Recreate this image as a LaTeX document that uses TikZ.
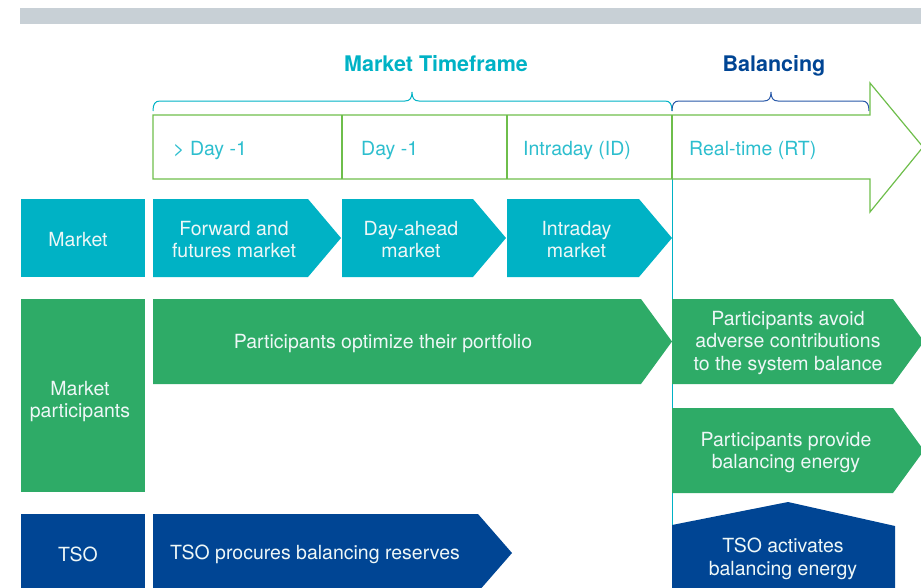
\documentclass[tikz,border=0pt]{standalone}
\usepackage{fontspec}
\setmainfont{TeX Gyre Heros}
\usetikzlibrary{positioning}
\definecolor{bar_grey}{RGB}{200,208,214}
\definecolor{teal_blue}{RGB}{0,178,197}
\definecolor{light_teal}{RGB}{45,190,206}
\definecolor{line_green}{RGB}{110,190,75}
\definecolor{field_green}{RGB}{46,171,103}
\definecolor{tso_blue}{RGB}{0,69,148}
\definecolor{brace_blue}{RGB}{40,88,168}
\definecolor{text_white}{RGB}{238,247,247}

\begin{document}
\begin{tikzpicture}[x=1pt,y=-1pt,
	txt/.style={text=text_white,align=center,inner sep=0pt,yshift=-1.5pt,font=\fontsize{19.5}{22.7}\selectfont},
	head/.style={anchor=base,inner sep=0pt,font=\fontsize{21.5}{26}\selectfont\bfseries},
	slot/.style={anchor=west,inner sep=0pt,yshift=-2.5pt,text=light_teal,font=\fontsize{19.5}{22.7}\selectfont}]
	\useasboundingbox (0,0) rectangle (921,587);
	\fill[bar_grey] (20,8) rectangle (921,24);

	% headings and braces
	\node[head,text=teal_blue] (timeframe) at (436,71) {Market Timeframe};
	\node[head,text=tso_blue] (balancing) at (774,71) {Balancing};
	\draw[teal_blue,line width=1pt] (153,111) .. controls (153,104) and (155,101) .. (160,101) -- (405,101) .. controls (410,101) and (412,98) .. (412,92) .. controls (412,98) and (414,101) .. (419,101) -- (665,101) .. controls (670,101) and (672,104) .. (672,111);
	\draw[brace_blue,line width=1pt] (672,111) .. controls (672,104) and (674,101) .. (679,101) -- (764,101) .. controls (769,101) and (771,98) .. (771,92) .. controls (771,98) and (773,101) .. (778,101) -- (862,101) .. controls (867,101) and (869,104) .. (869,111);

	% time axis
	\draw[teal_blue,line width=1pt] (672,179) -- (672,590);
	\draw[line_green,line width=1.2pt] (153,115) -- (870,115) -- (870,83) -- (923,147) -- (870,212) -- (870,179) -- (153,179) -- cycle;
	\foreach \x in {342,507,672}
		\draw[line_green,line width=1.2pt] (\x,115) -- (\x,179);
	\node[slot] (dayminus) at (173,148) {> Day -1};
	\node[slot] (dayahead) at (361,148) {Day -1};
	\node[slot] (intraday) at (523,148) {Intraday (ID)};
	\node[slot] (realtime) at (689,148) {Real-time (RT)};

	% row labels
	\fill[teal_blue] (21,199) rectangle (145,277);
	\node[txt] (market) at (78,238) {Market};
	\fill[field_green] (21,299) rectangle (145,492);
	\node[txt] (participants) at (80,400) {Market\\participants};
	\fill[tso_blue] (21,514) rectangle (145,595);
	\node[txt] (tso) at (78,553) {TSO};

	% market products
	\foreach \xa/\xb/\nm/\lbl in {153/341/forward/{Forward and\\futures market},342/506/dayaheadmkt/{Day-ahead\\market},507/672/intradaymkt/{Intraday\\market}}{
		\fill[teal_blue] (\xa,199) -- (\xb-33,199) -- (\xb,238) -- (\xb-33,277) -- (\xa,277) -- cycle;
		\node[txt] (\nm) at ({(\xa+\xb-26)/2},238) {\lbl};
	}

	% participants
	\fill[field_green] (153,299) -- (641,299) -- (672,341.5) -- (641,384) -- (153,384) -- cycle;
	\node[txt] (optimize) at (383,341.5) {Participants optimize their portfolio};
	\fill[field_green] (672,299) -- (893,299) -- (924,341.5) -- (893,384) -- (672,384) -- cycle;
	\node[txt] (avoid) at (788,341.5) {Participants avoid\\adverse contributions\\to the system balance};
	\fill[field_green] (672,408) -- (893,408) -- (924,450.5) -- (893,493) -- (672,493) -- cycle;
	\node[txt] (provide) at (786,451) {Participants provide\\balancing energy};

	% tso
	\fill[tso_blue] (153,514) -- (478,514) -- (512,553) -- (478,592) -- (153,592) -- cycle;
	\node[txt] (procure) at (315,553) {TSO procures balancing reserves};
	\fill[tso_blue] (672,525) -- (788,502) -- (895,526) -- (895,595) -- (672,595) -- cycle;
	\node[txt] (activate) at (783,557.5) {TSO activates\\balancing energy};
\end{tikzpicture}
\end{document}
